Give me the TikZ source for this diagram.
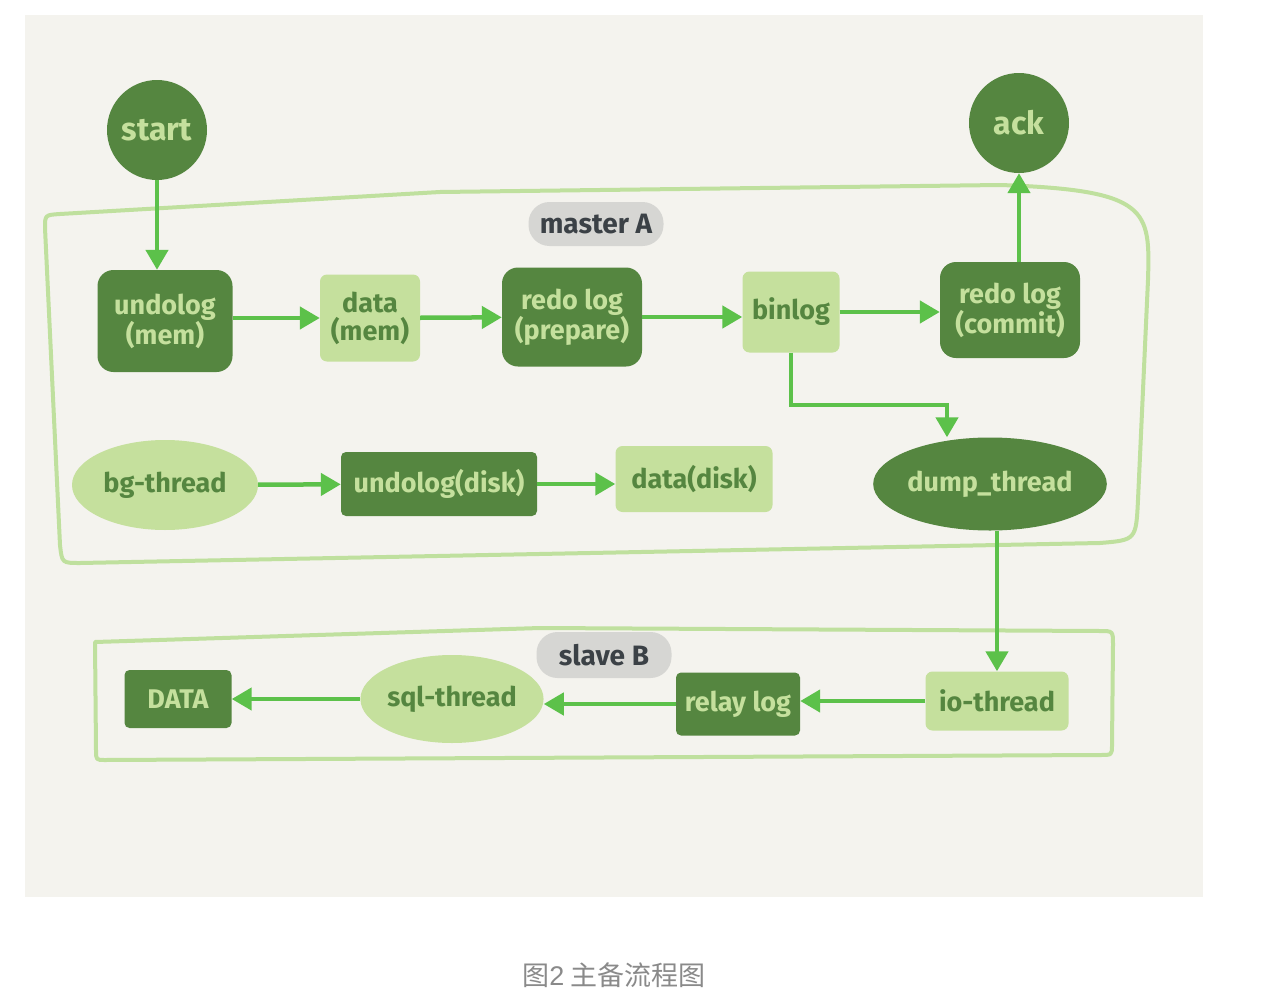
\documentclass[tikz,border=0pt]{standalone}
\usepackage{fontspec}
\setmainfont{Fira Sans}
\newfontfamily\cjkfont{Noto Sans CJK SC}
\newfontfamily\capnum{Liberation Sans}
\usetikzlibrary{arrows.meta,shapes.geometric,calc}
\definecolor{bgpanel}{HTML}{F4F3EE}
\definecolor{darkg}{HTML}{558640}
\definecolor{lightg}{HTML}{C5E09D}
\definecolor{arrowg}{HTML}{5CC14A}
\definecolor{borderg}{HTML}{BFE09E}
\definecolor{tagbg}{HTML}{D6D6D3}
\definecolor{tagtx}{HTML}{3B4146}
\definecolor{captx}{HTML}{8A8A8A}
\tikzset{
  lbl/.style={font=\fontsize{27}{28}\selectfont\bfseries, align=center, inner sep=0pt},
  darkbox/.style={lbl, rectangle, rounded corners=16pt, fill=darkg, text=lightg},
  lightbox/.style={lbl, rectangle, rounded corners=7pt, fill=lightg, text=darkg},
  darkcirc/.style={lbl, circle, fill=darkg, text=lightg, minimum size=100pt, font=\fontsize{32}{34}\selectfont\bfseries},
  lightell/.style={lbl, ellipse, fill=lightg, text=darkg},
  darkell/.style={lbl, ellipse, fill=darkg, text=lightg},
  tag/.style={lbl, rectangle, rounded corners=21pt, fill=tagbg, text=tagtx, font=\fontsize{28}{30}\selectfont\bfseries},
  flow/.style={draw=arrowg, line width=4.5pt, -{Triangle[length=20pt,width=22pt]}},
  frame/.style={draw=borderg, line width=4pt, line join=round}
}
\begin{document}
\begin{tikzpicture}[x=1pt,y=-1pt]
\useasboundingbox (0,0) rectangle (1267,1001);
\fill[white] (0,0) rectangle (1267,1001);
\fill[bgpanel] (25,15) rectangle (1203,897);

% frames
\draw[frame] (45,228) .. controls (45,215) .. (60,214) -- (440,192) -- (1000,185)
  .. controls (1150,190) and (1150,210) .. (1148,280) -- (1138,500)
  .. controls (1136,540) .. (1100,543) -- (80,563) .. controls (62,563) .. (60,545) -- cycle;
\draw[frame] (95,642) -- (540,628) -- (1100,631) .. controls (1113,631) .. (1113,645)
  -- (1112,745) .. controls (1112,755) .. (1100,755) -- (105,760)
  .. controls (96,760) .. (96,750) -- cycle;

% tags
\node[tag, minimum width=135pt, minimum height=44pt] (masterA) at (596,224) {master A};
\node[tag, minimum width=135pt, minimum height=46pt] (slaveB) at (604,655) {slave B};

% master nodes
\node[darkcirc] (start) at (157,130) {start};
\node[darkcirc] (ack) at (1019,123) {ack};
\node[darkbox, minimum width=135pt, minimum height=102pt] (undomem) at (165,321) {undolog\\(mem)};
\node[lightbox, minimum width=100pt, minimum height=87pt] (datamem) at (370,318) {data\\(mem)};
\node[darkbox, minimum width=140pt, minimum height=99pt] (redoprep) at (572,317) {redo log\\(prepare)};
\node[lightbox, minimum width=97pt, minimum height=81pt] (binlog) at (791,312) {binlog};
\node[darkbox, minimum width=140pt, minimum height=96pt] (redocom) at (1010,310) {redo log\\(commit)};
\node[lightell, minimum width=186pt, minimum height=90pt] (bg) at (165,485) {bg-thread};
\node[darkbox, rounded corners=5pt, minimum width=196pt, minimum height=64pt] (undodisk) at (439,484) {undolog(disk)};
\node[lightbox, minimum width=157pt, minimum height=66pt] (datadisk) at (694,479) {data(disk)};
\node[darkell, minimum width=231pt, minimum height=93pt] (dump) at (990,484) {dump\_thread};

% slave nodes
\node[darkbox, rounded corners=5pt, minimum width=107pt, minimum height=58pt] (DATA) at (178,699) {DATA};
\node[lightell, minimum width=183pt, minimum height=88pt] (sql) at (452,699) {sql-thread};
\node[darkbox, rounded corners=5pt, minimum width=124pt, minimum height=63pt] (relay) at (738,704) {relay log};
\node[lightbox, minimum width=143pt, minimum height=59pt] (io) at (997,701) {io-thread};

% connectors
\coordinate (bend) at (947,405);
\draw[flow] (start) -- (start |- undomem.north);
\draw[flow] (undomem.east |- datamem) -- (datamem.west);
\draw[flow] (datamem) -- (redoprep);
\draw[flow] (redoprep.east) -- (binlog.west |- redoprep.east);
\draw[flow] (binlog) -- (binlog -| redocom.west);
\draw[flow] (redocom.north -| ack) -- (ack);
\draw[flow] (binlog.south) |- (bend) -- (bend |- dump.north);
\draw[flow] (bg) -- (undodisk);
\draw[flow] (undodisk) -- (undodisk -| datadisk.west);
\draw[flow] (dump.south -| io) -- (io);
\draw[flow] (io) -- (io -| relay.east);
\draw[flow] (relay) -- (relay -| sql.east);
\draw[flow] (sql) -- (sql -| DATA.east);

% caption
\node[inner sep=0pt, text=captx, font=\fontsize{27}{29}\selectfont] (cap) at (614,975) {\cjkfont 图{\capnum 2} 主备流程图};
\end{tikzpicture}
\end{document}
